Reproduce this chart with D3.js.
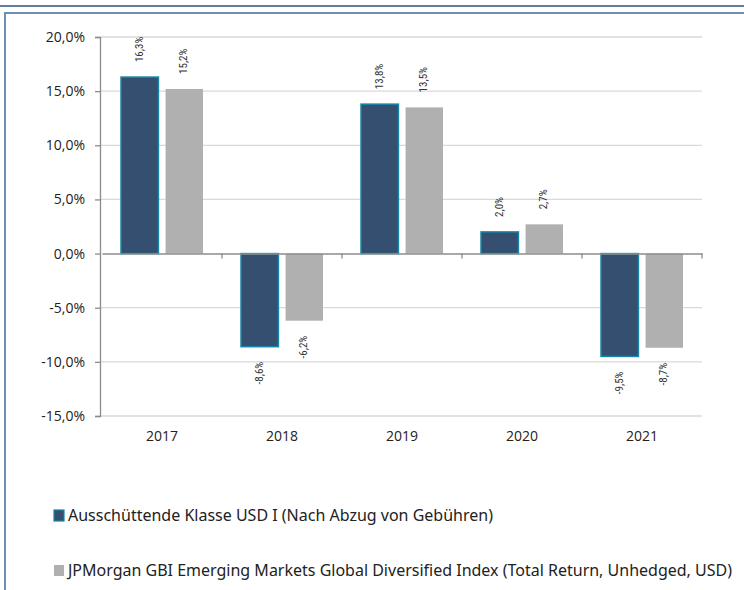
<!DOCTYPE html>
<html>
<head>
<meta charset="utf-8">
<script src="https://cdn.jsdelivr.net/npm/d3@7"></script>
<style>
  body { margin: 0; background: #fff; }
  svg { display: block; }
</style>
</head>
<body>
<div id="chart"></div>
<script>
// data
const years = ["2017", "2018", "2019", "2020", "2021"];
const seriesNames = [
    "Ausschüttende Klasse USD I (Nach Abzug von Gebühren)",
    "JPMorgan GBI Emerging Markets Global Diversified Index (Total Return, Unhedged, USD)"
];
const fundValues = [16.3, -8.6, 13.8, 2.0, -9.5];
const indexValues = [15.2, -6.2, 13.5, 2.7, -8.7];
const yTicks = [-15, -10, -5, 0, 5, 10, 15, 20];

const seriesKeys = ["fund", "index"];
const fills = {fund: "#344f70", index: "#b0b0b0"};
const strokes = {fund: "#1786a6", index: "none"};

const rows = years.map((y, i) => ({year: y, fund: fundValues[i], index: indexValues[i]}));

const width = 744, height = 590;
const svg = d3.select("#chart").append("svg")
    .attr("width", width)
    .attr("height", height);

// frame lines
svg.append("line").attr("x1", 0).attr("x2", width).attr("y1", 6).attr("y2", 6)
    .attr("stroke", "#2f5380").attr("stroke-width", 1.5);
svg.append("path").attr("d", "M5,590V13H744")
    .attr("fill", "none").attr("stroke", "#6d8fb3").attr("stroke-width", 2);

// plain hyphen and decimal comma, like the original
const fmt = v => (v < 0 ? "-" : "") + Math.abs(v).toFixed(1).replace(".", ",") + "%";

const y = d3.scaleLinear().domain([-15, 20]).range([416, 37]);
const x0 = d3.scaleBand().domain(years).range([102, 702]);
const x1 = d3.scaleBand().domain(seriesKeys).range([19, 101]).paddingInner(0.16);

const font = "'Open Sans', 'Noto Sans', sans-serif";
const narrow = "'Liberation Sans Narrow', 'Roboto Condensed', 'Open Sans', sans-serif";

// gridlines
svg.append("g").selectAll("line")
    .data(yTicks.filter(t => t !== 0))
    .join("line")
    .attr("x1", 100).attr("x2", 702)
    .attr("y1", d => y(d)).attr("y2", d => y(d))
    .attr("stroke", "#d9d9d9").attr("stroke-width", 1.3);

// y axis
const yAxis = svg.append("g")
    .attr("transform", "translate(100,0)")
    .call(d3.axisLeft(y).tickValues(yTicks).tickSize(5).tickPadding(10).tickFormat(fmt));
yAxis.select(".domain").attr("stroke", "#8c8c8c").attr("stroke-width", 1.3);
yAxis.selectAll(".tick line").attr("stroke", "#8c8c8c").attr("stroke-width", 1.3);
yAxis.selectAll("text").attr("font-family", font).attr("font-size", 14).attr("fill", "#222");

// bars
const groups = svg.append("g").selectAll("g")
    .data(rows)
    .join("g")
    .attr("transform", d => `translate(${x0(d.year)},0)`);

groups.selectAll("rect")
    .data(d => seriesKeys.map(k => ({key: k, value: d[k]})))
    .join("rect")
    .attr("x", d => x1(d.key))
    .attr("width", x1.bandwidth())
    .attr("y", d => y(Math.max(0, d.value)))
    .attr("height", d => Math.abs(y(d.value) - y(0)))
    .attr("fill", d => fills[d.key])
    .attr("stroke", d => strokes[d.key])
    .attr("stroke-width", 1.5);

// value labels
groups.selectAll("text")
    .data(d => seriesKeys.map(k => ({key: k, value: d[k]})))
    .join("text")
    .attr("transform", d => {
        const cx = x1(d.key) + x1.bandwidth() / 2 + 3;
        const cy = d.value >= 0 ? y(d.value) - 15 : y(d.value) + 15;
        return `translate(${cx},${cy}) rotate(-90)`;
    })
    .attr("text-anchor", d => d.value >= 0 ? "start" : "end")
    .attr("font-family", narrow)
    .attr("font-size", 11)
    .attr("fill", "#333")
    .text(d => fmt(d.value));

// x axis on zero line
const xAxis = svg.append("g")
    .attr("transform", `translate(0,${y(0)})`)
    .call(d3.axisBottom(x0).tickSize(0).tickFormat(""));
xAxis.select(".domain").attr("stroke", "#8c8c8c").attr("stroke-width", 1.5);
svg.append("g").selectAll("line")
    .data(years.slice(1).concat(["end"]))
    .join("line")
    .attr("x1", d => d === "end" ? 702 : x0(d))
    .attr("x2", d => d === "end" ? 702 : x0(d))
    .attr("y1", y(0)).attr("y2", y(0) + 5)
    .attr("stroke", "#8c8c8c").attr("stroke-width", 1.3);

// year labels
svg.append("g").selectAll("text")
    .data(years)
    .join("text")
    .attr("x", d => x0(d) + 60)
    .attr("y", 441)
    .attr("text-anchor", "middle")
    .attr("font-family", font)
    .attr("font-size", 14)
    .attr("fill", "#222")
    .text(d => d);

// legend
const legend = svg.append("g").selectAll("g")
    .data(seriesKeys)
    .join("g")
    .attr("transform", (d, i) => `translate(54,${510 + i * 55})`);
legend.append("rect")
    .attr("width", 10).attr("height", 11)
    .attr("fill", d => fills[d])
    .attr("stroke", d => strokes[d])
    .attr("stroke-width", 1.2);
legend.append("text")
    .attr("x", 14).attr("y", 11)
    .attr("font-family", "'Noto Sans', sans-serif")
    .attr("font-size", 16)
    .attr("fill", "#222")
    .text((d, i) => seriesNames[i]);
</script>
</body>
</html>
